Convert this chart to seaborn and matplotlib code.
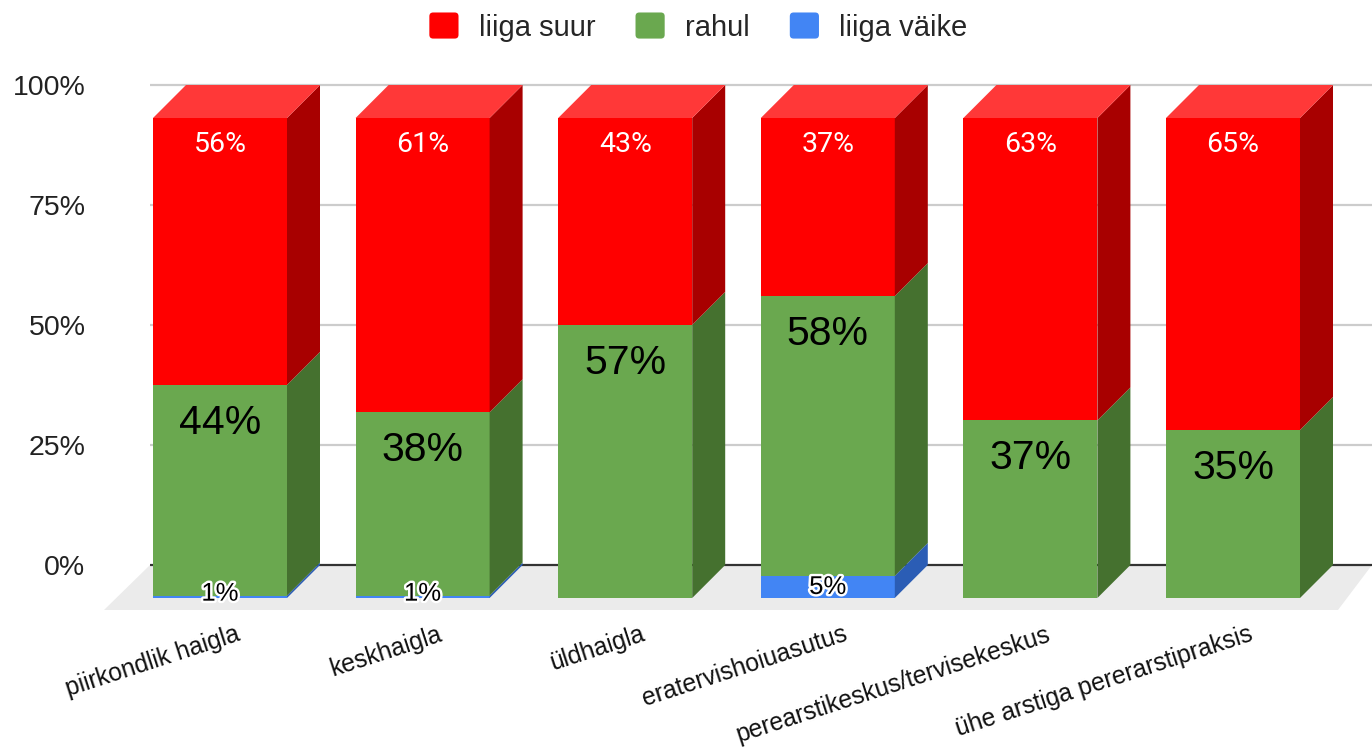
import numpy as np
import pandas as pd
import matplotlib
matplotlib.use("Agg")
import matplotlib.pyplot as plt
import seaborn as sns
from matplotlib.patches import Polygon, Patch, FancyBboxPatch
from matplotlib.legend_handler import HandlerPatch
from matplotlib.transforms import ScaledTranslation
import matplotlib.patheffects as pe

# ---------------- data ----------------
categories = ["piirkondlik haigla", "keskhaigla", "üldhaigla", "eratervishoiuasutus",
              "perearstikeskus/tervisekeskus", "ühe arstiga pererarstipraksis"]
liiga_suur = [55.6, 61.3, 43.1, 37.1, 63.0, 65.0]
rahul = [43.9, 38.2, 56.9, 58.3, 37.0, 35.0]
liiga_vaike = [0.5, 0.5, 0.0, 4.6, 0.0, 0.0]
series_names = ["liiga suur", "rahul", "liiga väike"]
y_ticks = [0, 25, 50, 75, 100]
y_tick_labels = ["0%", "25%", "50%", "75%", "100%"]

# ---------------- style ----------------
sns.set_style("white")
plt.rcParams["font.family"] = ["Liberation Sans", "DejaVu Sans"]

front_col = {"liiga suur": "#FF0000", "rahul": "#6AA84F", "liiga väike": "#4285F4"}
side_col = {"liiga suur": "#A80000", "rahul": "#45712F", "liiga väike": "#2B5DB5"}
top_col = {"liiga suur": "#FF3838", "rahul": "#86BE6C", "liiga väike": "#6EA2F7"}

FIG_W, FIG_H = 1372, 756
L, R, T, B = 100, 1372, 40, 620          # axes box in pixels
ZERO_PX = 565                             # pixel row of the 0% back gridline
SLOT_PX, UNIT_PX, FIRST_PX = 202.6, 4.8, 220
bar_w = 134 / SLOT_PX
dx = 33 / SLOT_PX                         # depth offset (x, data units)
dy = 33 / UNIT_PX                         # depth offset (y, data units)

fig = plt.figure(figsize=(FIG_W / 100, FIG_H / 100), dpi=100)
ax = fig.add_axes([L / FIG_W, 1 - B / FIG_H, (R - L) / FIG_W, (B - T) / FIG_H])

xmin, xmax = (L - FIRST_PX) / SLOT_PX, (R - FIRST_PX) / SLOT_PX
ymin, ymax = (ZERO_PX - B) / UNIT_PX, (ZERO_PX - T) / UNIT_PX

# ---------------- back plane & floor ----------------
grid_x0 = (150 - FIRST_PX) / SLOT_PX
floor_depth = 45 / UNIT_PX
floor = Polygon([(grid_x0, 0), (xmax, 0), (xmax - 34 / SLOT_PX, -floor_depth),
                 (grid_x0 - 46 / SLOT_PX, -floor_depth)],
                closed=True, facecolor="#EBEBEB", edgecolor="none", zorder=1)
ax.add_patch(floor)
for t in y_ticks:
    ax.hlines(t, grid_x0, xmax, colors="#333333" if t == 0 else "#CCCCCC",
              linewidth=1.6, zorder=1.5)

# ---------------- bars ----------------
values = {"liiga suur": liiga_suur, "rahul": rahul, "liiga väike": liiga_vaike}
stack_order = ["liiga väike", "rahul", "liiga suur"]
n = len(categories)
bottom = np.zeros(n)
segments = {}
for name in stack_order:
    h = np.array(values[name], dtype=float)
    sns.barplot(x=categories, y=h, bottom=bottom - dy, color=front_col[name],
                saturation=1, width=bar_w, errorbar=None, linewidth=0,
                ax=ax, zorder=3)
    segments[name] = (bottom.copy(), h)
    for i in range(n):
        if h[i] <= 0:
            continue
        xr = i + bar_w / 2
        y0, y1 = bottom[i], bottom[i] + h[i]
        ax.add_patch(Polygon([(xr, y0 - dy), (xr + dx, y0), (xr + dx, y1), (xr, y1 - dy)],
                             closed=True, facecolor=side_col[name], edgecolor="none", zorder=3))
    bottom = bottom + h

# top faces
for i in range(n):
    xl, xr = i - bar_w / 2, i + bar_w / 2
    tot = bottom[i]
    ax.add_patch(Polygon([(xl, tot - dy), (xr, tot - dy), (xr + dx, tot), (xl + dx, tot)],
                         closed=True, facecolor=top_col["liiga suur"], edgecolor="none", zorder=3))


def fmt(v):
    return f"{int(np.floor(v + 0.5))}%"


# ---------------- labels ----------------
b, h = segments["liiga suur"]
for i in range(n):
    if h[i] > 0:
        ax.text(i, b[i] + h[i] - dy - 26.5 / UNIT_PX, fmt(h[i]), ha="center", va="center",
                color="white", fontsize=20.5, family=["Roboto", "DejaVu Sans"], zorder=5)
b, h = segments["rahul"]
for i in range(n):
    if h[i] > 0:
        ax.text(i, b[i] + h[i] - dy - 38 / UNIT_PX, fmt(h[i]), ha="center", va="center",
                color="black", fontsize=29.5, zorder=5)
b, h = segments["liiga väike"]
for i in range(n):
    if h[i] > 0:
        ax.text(i, b[i] - dy + max(h[i] / 2, 0.9), fmt(h[i]), ha="center", va="center",
                color="black", fontsize=18.5, zorder=5,
                path_effects=[pe.withStroke(linewidth=3.5, foreground="white")])

# ---------------- axes ----------------
ax.set_xlim(xmin, xmax)
ax.set_ylim(ymin, ymax)
ax.set_yticks(y_ticks, y_tick_labels)
ax.tick_params(axis="y", length=0, pad=10.5, labelsize=20.5, labelcolor="#222222")
ax.set_xticks(range(n), categories, rotation=18, ha="right", rotation_mode="anchor")
ax.tick_params(axis="x", length=0, pad=1.5, labelsize=17.8, labelcolor="#111111")
for lbl in ax.get_xticklabels():
    lbl.set_transform(lbl.get_transform() + ScaledTranslation(15 / 100, 0, fig.dpi_scale_trans))
ax.set_xlabel("")
ax.set_ylabel("")
for s in ax.spines.values():
    s.set_visible(False)
ax.grid(False)


class RoundHandler(HandlerPatch):
    def create_artists(self, legend, orig_handle, xdescent, ydescent, width, height, fontsize, trans):
        p = FancyBboxPatch((-xdescent, -ydescent), width, height,
                           boxstyle=f"round,pad=0,rounding_size={0.13 * width}",
                           facecolor=orig_handle.get_facecolor(), edgecolor="none",
                           transform=trans)
        return [p]


handles = [Patch(facecolor=front_col[s], label=s) for s in series_names]
fig.legend(handles=handles, loc="center", bbox_to_anchor=(0.509, 1 - 27 / FIG_H), ncol=3,
           frameon=False, fontsize=21, handlelength=1.0, handleheight=1.0,
           handletextpad=0.69, columnspacing=1.38,
           handler_map={Patch: RoundHandler()})

fig.savefig("out.png", dpi=100)
